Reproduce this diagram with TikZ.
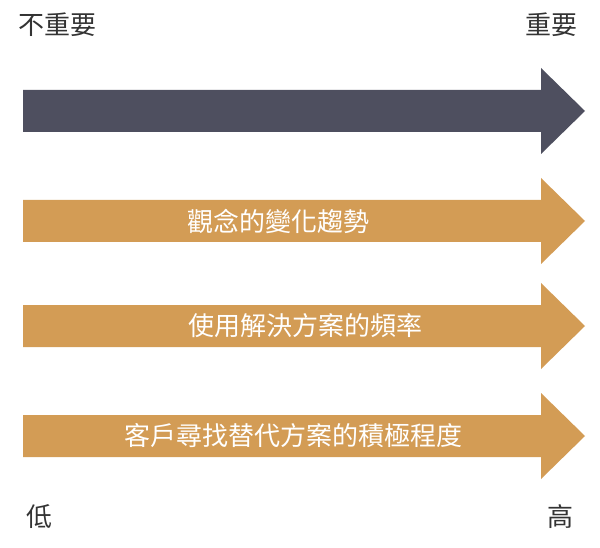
\documentclass[tikz,border=0pt]{standalone}
\usepackage{fontspec}
\setmainfont{Noto Sans CJK TC}
\definecolor{darkbar}{HTML}{4E4F5F}
\definecolor{ochre}{HTML}{D39C55}
\newcommand{\bararrow}[2]{%
  \fill[#2] (23,#1-21) -- (541,#1-21) -- (541,#1-43) -- (585,#1)
    -- (541,#1+43) -- (541,#1+21) -- (23,#1+21) -- cycle;}
\begin{document}
\begin{tikzpicture}[x=1pt,y=-1pt,
    edge/.style={font=\fontsize{26}{30}\selectfont, text=black!80},
    inlabel/.style={font=\fontsize{26}{30}\selectfont, text=white}
    ]
    \useasboundingbox (0,0) rectangle (600,548);
    \bararrow{111}{darkbar}
    \foreach \y in {221,326,436} {\bararrow{\y}{ochre}}
    \node[edge] (lo) at (58,25) {不重要};
    \node[edge] (hi) at (551,25) {重要};
    \node[edge] (low) at (40,517) {低};
    \node[edge] (high) at (560,517) {高};
    \node[inlabel] (trend) at (278,221) {觀念的變化趨勢};
    \node[inlabel] (freq) at (305,326) {使用解決方案的頻率};
    \node[inlabel] (seek) at (293,436) {客戶尋找替代方案的積極程度};
  \end{tikzpicture}
\end{document}
